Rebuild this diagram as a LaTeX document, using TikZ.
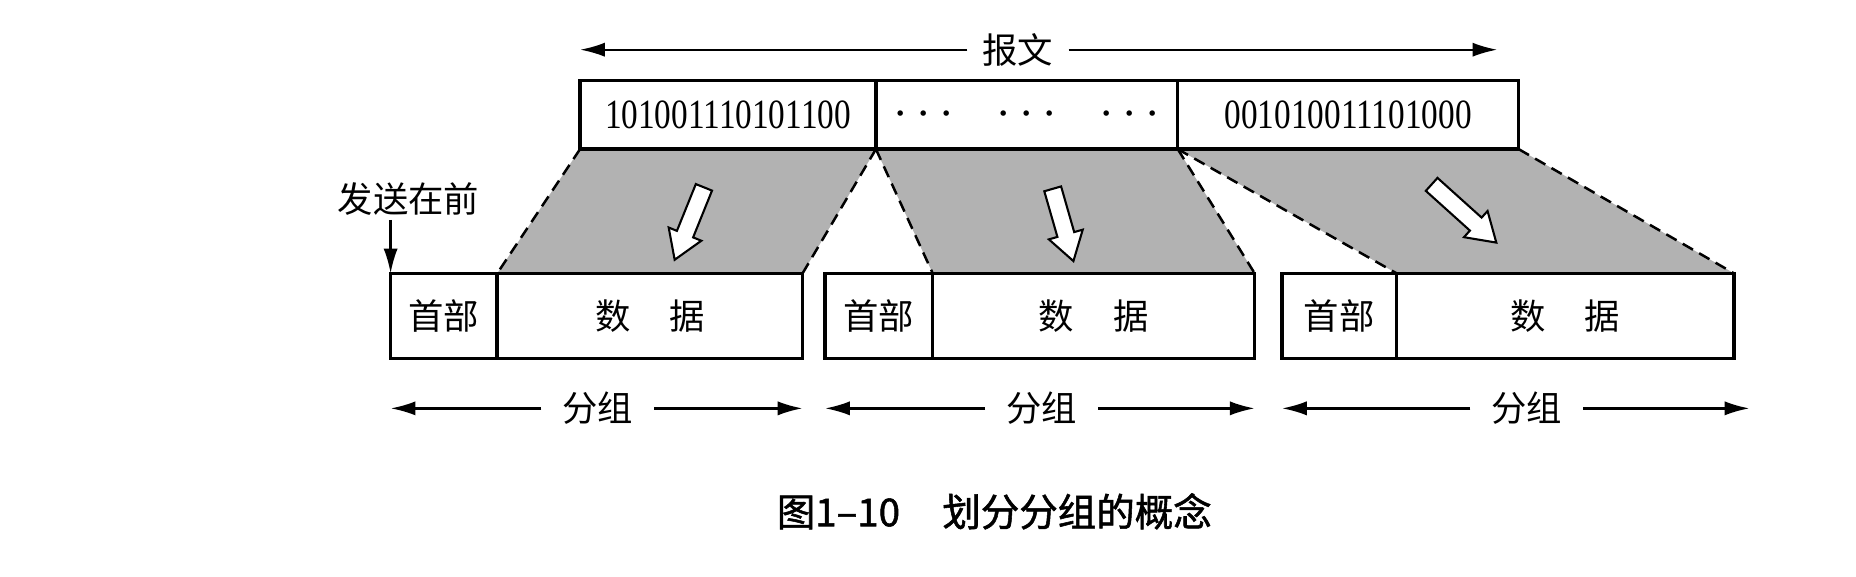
\documentclass[tikz,border=0pt]{standalone}
\usepackage{fontspec}
\setmainfont{Liberation Serif}[FakeStretch=0.8]
\newfontfamily\cjk{Noto Sans CJK SC}
\newfontfamily\capfont[FakeBold=1.4]{Noto Sans CJK SC}
\usetikzlibrary{positioning,shapes.arrows,arrows.meta,backgrounds}
\tikzset{
	cell/.style={draw, line width=1.6pt, rectangle, inner sep=0pt, outer sep=0pt, minimum height=1.16cm, font=\fontsize{20pt}{22pt}\selectfont},
	part/.style={draw, line width=1.6pt, rectangle, inner sep=0pt, outer sep=0pt, minimum height=1.44cm, font=\cjk\fontsize{17pt}{19pt}\selectfont},
	tag/.style={font=\cjk\fontsize{17pt}{19pt}\selectfont, inner xsep=0.25cm, inner ysep=2pt},
	span/.style={-{Latex[length=0.42cm,width=0.24cm]}, line width=1.1pt},
	cut/.style={dash pattern=on 0.2cm off 0.12cm, line width=1.2pt},
	wedge/.style={fill=black!30},
	hollow/.style={single arrow, draw, fill=white, line width=1pt, inner xsep=0pt, inner ysep=0.13cm, single arrow head extend=0.15cm, single arrow tip angle=65}
}
\def\dotgroup{{\fontsize{30pt}{30pt}\selectfont$\cdots$}}

\begin{document}
\begin{tikzpicture}
			%%%%% START %%%%%
			\useasboundingbox (0, 0) rectangle (31.36, 9.74);
			
			% message
			\node[cell, minimum width=5cm, anchor=south west] (m1) at (9.8, 7.22) {101001110101100};
			\node[cell, minimum width=5.1cm, right=0pt of m1] (m2) {\dotgroup\hspace{0.72cm}\dotgroup\hspace{0.72cm}\dotgroup};
			\node[cell, minimum width=5.76cm, right=0pt of m2] (m3) {001010011101000};
			
			\node[tag] (msg) at (17.2, 8.9) {报文};
			\coordinate (msgend) at (25.3, 8.9);
			\draw[span] (msg) -- (msg -| m1.west);
			\draw[span] (msg) -- (msgend);
			
			% packets
			\node[part, minimum width=1.8cm, anchor=south west] (p1h) at (6.6, 3.68) {首部};
			\node[part, minimum width=5.16cm, right=0pt of p1h] (p1d) {数\hspace{1.1em}据};
			
			\node[part, minimum width=1.82cm, anchor=south west] (p2h) at (13.94, 3.68) {首部};
			\node[part, minimum width=5.44cm, right=0pt of p2h] (p2d) {数\hspace{1.1em}据};
			
			\node[part, minimum width=1.94cm, anchor=south west] (p3h) at (21.66, 3.68) {首部};
			\node[part, minimum width=5.7cm, right=0pt of p3h] (p3d) {数\hspace{1.1em}据};
			
			% gray areas
			\begin{scope}[on background layer]
				\fill[wedge] (m1.south west) -- (m1.south east) -- (p1d.north east) -- (p1d.north west) -- cycle;
				\fill[wedge] (m2.south west) -- (m2.south east) -- (p2d.north east) -- (p2d.north west) -- cycle;
				\fill[wedge] (m3.south west) -- (m3.south east) -- (p3d.north east) -- (p3d.north west) -- cycle;
			\end{scope}
			
			\draw[cut] (m1.south west) -- (p1d.north west);
			\draw[cut] (m1.south east) -- (p1d.north east);
			\draw[cut] (m2.south west) -- (p2d.north west);
			\draw[cut] (m2.south east) -- (p2d.north east);
			\draw[cut] (m3.south west) -- (p3d.north west);
			\draw[cut] (m3.south east) -- (p3d.north east);
			
			\node[hollow, minimum height=1.32cm, rotate=-112] (a1) at (11.69, 6.07) {};
			\node[hollow, minimum height=1.27cm, rotate=-74] (a2) at (17.93, 6.05) {};
			\node[hollow, minimum height=1.47cm, rotate=-42] (a3) at (24.65, 6.21) {};
			
			% sent first
			\node[tag] (first) at (6.9, 6.38) {发送在前};
			\draw[span] (first.south -| p1h.west) -- (p1h.north west);
			
			% packet spans
			\node[tag, inner xsep=0.35cm] (g1) at (10.1, 2.84) {分组};
			\draw[span] (g1) -- (g1 -| p1h.west);
			\draw[span] (g1) -- (g1 -| p1d.east);
			
			\node[tag, inner xsep=0.35cm] (g2) at (17.6, 2.84) {分组};
			\draw[span] (g2) -- (g2 -| p2h.west);
			\draw[span] (g2) -- (g2 -| p2d.east);
			
			\node[tag, inner xsep=0.35cm] (g3) at (25.8, 2.84) {分组};
			\draw[span] (g3) -- (g3 -| p3h.west);
			\draw[span] (g3) -- ([xshift=0.26cm]g3 -| p3d.east);
			
			% caption
			\node[font=\capfont\fontsize{18.5pt}{20pt}\selectfont] (cap) at (16.8, 1.1) {图1–10\hspace{1.1em}划分分组的概念};
			
			%%%%% END %%%%%
\end{tikzpicture}
\end{document}
